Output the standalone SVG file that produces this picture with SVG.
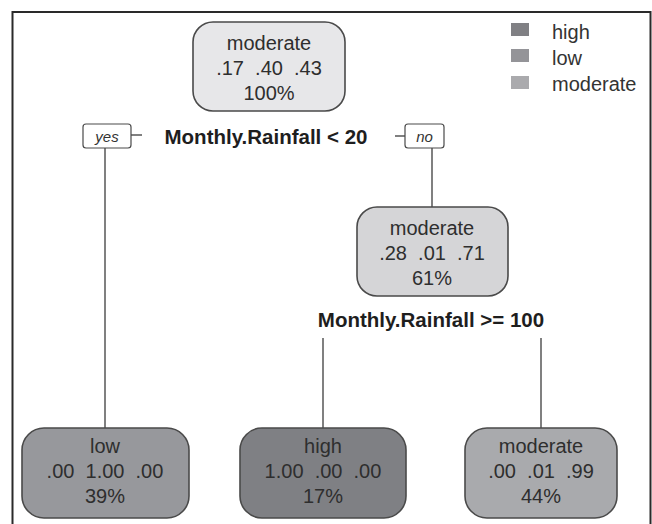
<svg xmlns="http://www.w3.org/2000/svg" width="652" height="524" viewBox="0 0 652 524">
<style>
.t{font-family:"Liberation Sans",Arial,sans-serif;font-size:20px;fill:#2e2e2e;text-anchor:middle;white-space:pre}
.b{font-family:"Liberation Sans",Arial,sans-serif;font-size:20.5px;font-weight:bold;fill:#1e1e1e;text-anchor:middle}
.i{font-family:"Liberation Sans",Arial,sans-serif;font-size:15px;font-style:italic;fill:#333;text-anchor:middle}
.lg{font-family:"Liberation Sans",Arial,sans-serif;font-size:20px;fill:#333}
.node{stroke:#4a4a4a;stroke-width:1.6}
.lab{fill:#fff;stroke:#4a4a4a;stroke-width:1.2}
.edge{stroke:#4a4a4a;stroke-width:1.4;fill:none}
</style>
<rect width="652" height="524" fill="#fff"/>
<path d="M12.5,524 V12 H650.5 V524" fill="none" stroke="#2a2a2a" stroke-width="2"/>
<g id="legend">
<rect x="511" y="23" width="18" height="13" fill="#808084"/>
<rect x="511" y="49" width="18" height="13" fill="#949498"/>
<rect x="511" y="76" width="18" height="13" fill="#aaaaad"/>
<text class="lg" x="552" y="39">high</text>
<text class="lg" x="552" y="65">low</text>
<text class="lg" x="552" y="91">moderate</text>
</g>
<g id="connectors">
<path class="edge" d="M131,135 H142"/>
<path class="edge" d="M395,136 H405"/>
<path class="edge" d="M105,148 V428"/>
<path class="edge" d="M432,148 V207"/>
<path class="edge" d="M323,338 V428"/>
<path class="edge" d="M541,338 V428"/>
</g>
<g id="root">
<rect class="node" x="193" y="22" width="152" height="89" rx="20" fill="#e7e7e9"/>
<text class="t" x="269" y="50">moderate</text>
<text class="t" x="269" y="75">.17  .40  .43</text>
<text class="t" x="269" y="100">100%</text>
</g>
<g id="split1">
<rect class="lab" x="83" y="124" width="48" height="24" rx="3"/>
<text class="i" x="107" y="142">yes</text>
<text class="b" x="266" y="144">Monthly.Rainfall &lt; 20</text>
<rect class="lab" x="405" y="124" width="39" height="24" rx="3"/>
<text class="i" x="424.5" y="142">no</text>
</g>
<g id="mid">
<rect class="node" x="357" y="207" width="151" height="89" rx="20" fill="#d5d5d7"/>
<text class="t" x="432" y="235">moderate</text>
<text class="t" x="432" y="260">.28  .01  .71</text>
<text class="t" x="432" y="285">61%</text>
<text class="b" x="431" y="327">Monthly.Rainfall &gt;= 100</text>
</g>
<g id="leaf-low">
<rect class="node" x="22" y="428" width="167" height="90" rx="22" fill="#97989c"/>
<text class="t" x="105" y="453">low</text>
<text class="t" x="105" y="478">.00  1.00  .00</text>
<text class="t" x="105" y="503">39%</text>
</g>
<g id="leaf-high">
<rect class="node" x="240" y="428" width="166" height="90" rx="22" fill="#7f8084"/>
<text class="t" x="323" y="453">high</text>
<text class="t" x="323" y="478">1.00  .00  .00</text>
<text class="t" x="323" y="503">17%</text>
</g>
<g id="leaf-moderate">
<rect class="node" x="465" y="428" width="152" height="90" rx="22" fill="#a9aaad"/>
<text class="t" x="541" y="453">moderate</text>
<text class="t" x="541" y="478">.00  .01  .99</text>
<text class="t" x="541" y="503">44%</text>
</g>
</svg>
